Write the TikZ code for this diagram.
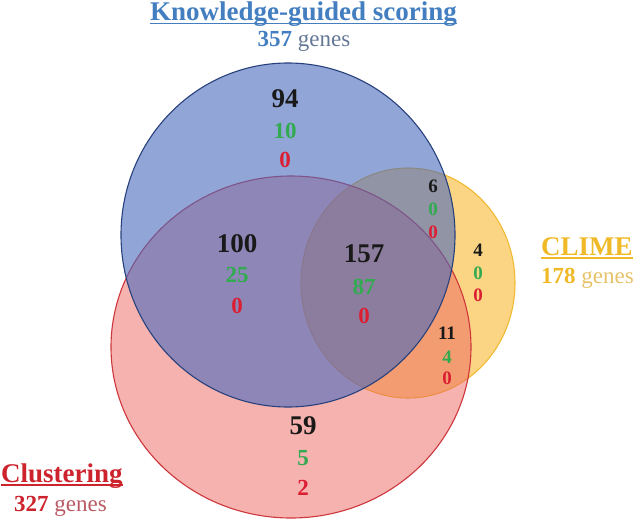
\documentclass[tikz,border=0pt]{standalone}
\usepackage{fontspec}
\setmainfont{Liberation Serif}

\definecolor{kgsblue}{RGB}{66,126,192}
\definecolor{kgsgrey}{RGB}{100,120,150}
\definecolor{kgsfill}{RGB}{72,105,188}
\definecolor{kgsline}{RGB}{40,65,125}
\definecolor{clusred}{RGB}{205,35,45}
\definecolor{clusgrey}{RGB}{185,90,100}
\definecolor{clusfill}{RGB}{235,101,95}
\definecolor{clusline}{RGB}{205,55,60}
\definecolor{climegold}{RGB}{240,185,40}
\definecolor{climegrey}{RGB}{230,195,105}
\definecolor{climefill}{RGB}{250,172,10}
\definecolor{climeline}{RGB}{240,185,50}
\definecolor{numblack}{RGB}{25,25,25}
\definecolor{numgreen}{RGB}{50,170,80}
\definecolor{numred}{RGB}{220,30,50}

\begin{document}
\begin{tikzpicture}[x=1pt,y=-1pt,
  big/.style={anchor=base, font=\bfseries\fontsize{27}{27}\selectfont},
  mid/.style={anchor=base, font=\bfseries\fontsize{23}{23}\selectfont},
  small/.style={anchor=base, font=\bfseries\fontsize{19}{19}\selectfont},
  setname/.style={anchor=base, inner sep=0pt, font=\bfseries\fontsize{27}{27}\selectfont},
  setsize/.style={anchor=base, inner sep=0pt, font=\fontsize{23}{23}\selectfont},
  venn/.style={fill opacity=0.5, line width=1.1pt}]
  \useasboundingbox (0,0) rectangle (633,520);

  % the three sets (CLIME below, knowledge-guided scoring on top)
  \draw[venn, draw=climeline, fill=climefill] (408,283) ellipse (107 and 115);
  \draw[venn, draw=clusline, fill=clusfill] (291,347) ellipse (180 and 171);
  \draw[venn, fill opacity=0.6, draw=kgsline, fill=kgsfill] (288,235) ellipse (167 and 172);

  % knowledge-guided scoring only
  \node[big, numblack] (kgsA) at (285,107) {94};
  \node[mid, numgreen] (kgsB) at (285,138) {10};
  \node[mid, numred] (kgsC) at (285,167) {0};

  % scoring and clustering
  \node[big, numblack] (kcA) at (237,252) {100};
  \node[mid, numgreen] (kcB) at (237,282) {25};
  \node[mid, numred] (kcC) at (237,313) {0};

  % all three
  \node[big, numblack] (allA) at (364,262) {157};
  \node[mid, numgreen] (allB) at (364,294) {87};
  \node[mid, numred] (allC) at (364,323) {0};

  % scoring and CLIME
  \node[small, numblack] (kmA) at (433,192) {6};
  \node[small, numgreen] (kmB) at (433,215) {0};
  \node[small, numred] (kmC) at (433,238) {0};

  % CLIME only
  \node[small, numblack] (climA) at (478,256) {4};
  \node[small, numgreen] (climB) at (478,279) {0};
  \node[small, numred] (climC) at (478,301) {0};

  % clustering and CLIME
  \node[small, numblack] (cmA) at (447,339) {11};
  \node[small, numgreen] (cmB) at (447,363) {4};
  \node[small, numred] (cmC) at (447,384) {0};

  % clustering only
  \node[big, numblack] (clusA) at (303,434) {59};
  \node[mid, numgreen] (clusB) at (303,465) {5};
  \node[mid, numred] (clusC) at (303,495) {2};

  % set names
  \node[setname, kgsblue] (kgs) at (303.5,20.5) {Knowledge-guided scoring};
  \draw[kgsblue, line width=1.4pt] ([yshift=-3pt]kgs.base west) -- ([yshift=-3pt]kgs.base east);
  \node[setsize] (kgsn) at (304,46.5) {{\bfseries\color{kgsblue}357} {\color{kgsgrey}genes}};

  \node[setname, climegold, anchor=base west] (clime) at (541,255) {CLIME};
  \draw[climegold, line width=1.4pt] ([yshift=-3pt]clime.base west) -- ([yshift=-3pt]clime.base east);
  \node[setsize, anchor=base west] (climen) at (541,283) {{\bfseries\color{climegold}178} {\color{climegrey}genes}};

  \node[setname, clusred, anchor=base west] (clus) at (1,482) {Clustering};
  \draw[clusred, line width=1.4pt] ([yshift=-3pt]clus.base west) -- ([yshift=-3pt]clus.base east);
  \node[setsize] (clusn) at (60.5,511) {{\bfseries\color{clusred}327} {\color{clusgrey}genes}};
\end{tikzpicture}
\end{document}
